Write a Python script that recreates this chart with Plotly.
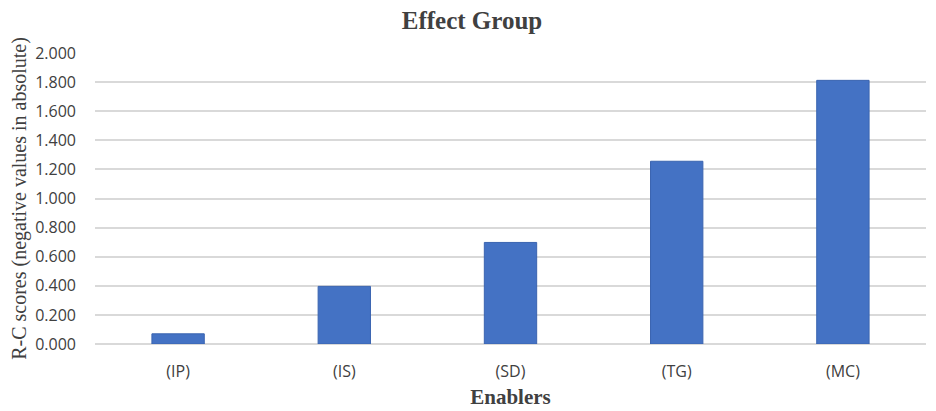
import plotly.graph_objects as go

categories = ["(IP)", "(IS)", "(SD)", "(TG)", "(MC)"]
values = [0.070, 0.396, 0.698, 1.256, 1.812]
y_ticks = [0.0, 0.2, 0.4, 0.6, 0.8, 1.0, 1.2, 1.4, 1.6, 1.8, 2.0]

fig = go.Figure(
    go.Bar(
        x=categories,
        y=values,
        marker=dict(color="#4472C4", line=dict(color="#3A64B0", width=1)),
        width=0.315,
    )
)

fig.update_layout(
    width=928,
    height=403,
    paper_bgcolor="white",
    plot_bgcolor="white",
    margin=dict(l=87, r=10, t=45, b=67, autoexpand=False),
    showlegend=False,
    title=dict(
        text="<b>Effect Group</b>",
        x=0.5,
        xanchor="center",
        y=0.970,
        yanchor="middle",
        font=dict(family="Liberation Serif", size=25, color="#404040"),
    ),
)

fig.update_xaxes(
    automargin=False,
    showgrid=False,
    showline=False,
    ticks="",
    ticklabelstandoff=16,
    tickfont=dict(family="Open Sans", size=16, color="#404040"),
    title=dict(
        text="<b>Enablers</b>",
        font=dict(family="Liberation Serif", size=21, color="#404040"),
        standoff=8,
    ),
)

fig.update_yaxes(
    automargin=False,
    range=[0, 2.0],
    tickvals=y_ticks,
    tickformat=".3f",
    showgrid=True,
    gridcolor="#D9D9D9",
    gridwidth=1.5,
    zeroline=True,
    zerolinecolor="#D9D9D9",
    zerolinewidth=1.5,
    showline=False,
    ticks="",
    ticklabelstandoff=18,
    tickfont=dict(family="Open Sans", size=16, color="#404040"),
    title=dict(
        text="R-C scores (negative values in absolute)",
        font=dict(family="Liberation Serif", size=20, color="#404040"),
        standoff=3,
    ),
)

fig.write_html("out.html")
